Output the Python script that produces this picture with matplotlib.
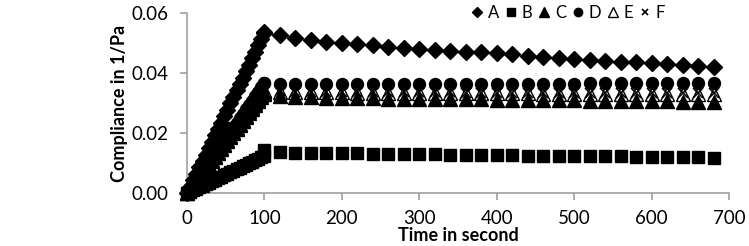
import numpy as np
import matplotlib.pyplot as plt

plt.rcParams['font.family'] = ['Lato', 'DejaVu Sans']

# loading phase, 0-100 s
t_load = [0, 4, 8, 12, 16, 20, 24, 28, 32, 36, 40, 44, 48, 52, 56, 60, 64, 68, 72, 76, 80, 84, 88, 92, 96, 100]
A_load = [0.0000, 0.0021, 0.0043, 0.0064, 0.0086, 0.0107, 0.0128, 0.0150, 0.0171, 0.0193, 0.0214, 0.0235, 0.0257,
          0.0278, 0.0300, 0.0321, 0.0342, 0.0364, 0.0385, 0.0407, 0.0428, 0.0449, 0.0471, 0.0492, 0.0514, 0.0535]
B_load = [0.0000, 0.0005, 0.0010, 0.0015, 0.0020, 0.0025, 0.0030, 0.0035, 0.0040, 0.0045, 0.0050, 0.0055, 0.0060,
          0.0065, 0.0070, 0.0075, 0.0080, 0.0085, 0.0090, 0.0095, 0.0100, 0.0105, 0.0110, 0.0115, 0.0120, 0.0125]
C_load = [0.0000, 0.0013, 0.0027, 0.0040, 0.0053, 0.0067, 0.0080, 0.0093, 0.0107, 0.0120, 0.0133, 0.0147, 0.0160,
          0.0173, 0.0186, 0.0200, 0.0213, 0.0226, 0.0240, 0.0253, 0.0266, 0.0280, 0.0293, 0.0306, 0.0320, 0.0333]
D_load = [0.0000, 0.0015, 0.0029, 0.0044, 0.0059, 0.0073, 0.0088, 0.0103, 0.0117, 0.0132, 0.0147, 0.0161, 0.0176,
          0.0191, 0.0206, 0.0220, 0.0235, 0.0250, 0.0264, 0.0279, 0.0294, 0.0308, 0.0323, 0.0338, 0.0352, 0.0367]
E_load = [0.0000, 0.0014, 0.0027, 0.0041, 0.0054, 0.0068, 0.0082, 0.0095, 0.0109, 0.0122, 0.0136, 0.0150, 0.0163,
          0.0177, 0.0190, 0.0204, 0.0218, 0.0231, 0.0245, 0.0258, 0.0272, 0.0286, 0.0299, 0.0313, 0.0326, 0.0340]
F_load = [0.0000, 0.0014, 0.0028, 0.0042, 0.0056, 0.0070, 0.0084, 0.0098, 0.0112, 0.0126, 0.0140, 0.0154, 0.0168,
          0.0182, 0.0196, 0.0210, 0.0224, 0.0238, 0.0252, 0.0266, 0.0280, 0.0294, 0.0308, 0.0322, 0.0336, 0.0350]

# hold phase, 100-680 s
t_hold = [100, 120, 140, 160, 180, 200, 220, 240, 260, 280, 300, 320, 340, 360, 380,
          400, 420, 440, 460, 480, 500, 520, 540, 560, 580, 600, 620, 640, 660, 680]
A_hold = [0.0537, 0.0527, 0.0516, 0.0510, 0.0504, 0.0501, 0.0498, 0.0492, 0.0488, 0.0482,
          0.0479, 0.0477, 0.0473, 0.0470, 0.0469, 0.0466, 0.0462, 0.0458, 0.0454, 0.0451,
          0.0447, 0.0443, 0.0441, 0.0438, 0.0436, 0.0434, 0.0431, 0.0427, 0.0422, 0.0421]
B_hold = [0.0142, 0.0136, 0.0135, 0.0134, 0.0133, 0.0133, 0.0132, 0.0131, 0.0131, 0.0130,
          0.0129, 0.0129, 0.0128, 0.0128, 0.0127, 0.0126, 0.0126, 0.0125, 0.0125, 0.0124,
          0.0123, 0.0123, 0.0122, 0.0122, 0.0121, 0.0121, 0.0120, 0.0120, 0.0119, 0.0118]
C_hold = [0.0330, 0.0322, 0.0320, 0.0319, 0.0318, 0.0317, 0.0316, 0.0316, 0.0315, 0.0314,
          0.0314, 0.0313, 0.0313, 0.0312, 0.0312, 0.0311, 0.0311, 0.0310, 0.0310, 0.0309,
          0.0309, 0.0308, 0.0308, 0.0307, 0.0307, 0.0306, 0.0306, 0.0305, 0.0305, 0.0305]
D_hold = [0.0368, 0.0362, 0.0362, 0.0362, 0.0362, 0.0363, 0.0363, 0.0363, 0.0363, 0.0363,
          0.0364, 0.0364, 0.0364, 0.0364, 0.0364, 0.0365, 0.0365, 0.0365, 0.0365, 0.0365,
          0.0365, 0.0366, 0.0366, 0.0366, 0.0366, 0.0366, 0.0366, 0.0366, 0.0367, 0.0367]
E_hold = [0.0342, 0.0338, 0.0337, 0.0337, 0.0336, 0.0336, 0.0335, 0.0335, 0.0335, 0.0334,
          0.0334, 0.0334, 0.0333, 0.0333, 0.0333, 0.0332, 0.0332, 0.0332, 0.0331, 0.0331,
          0.0331, 0.0331, 0.0330, 0.0330, 0.0330, 0.0330, 0.0330, 0.0330, 0.0330, 0.0330]
F_hold = [0.0348, 0.0339, 0.0338, 0.0338, 0.0338, 0.0337, 0.0337, 0.0337, 0.0337, 0.0336,
          0.0336, 0.0336, 0.0336, 0.0335, 0.0335, 0.0335, 0.0335, 0.0335, 0.0334, 0.0334,
          0.0334, 0.0334, 0.0334, 0.0333, 0.0333, 0.0333, 0.0333, 0.0333, 0.0333, 0.0333]

names = ["A", "B", "C", "D", "E", "F"]
loads = [A_load, B_load, C_load, D_load, E_load, F_load]
holds = [A_hold, B_hold, C_hold, D_hold, E_hold, F_hold]
styles = [
    dict(marker="D", ms=7.8, mfc="black", mec="black", zorder=3),
    dict(marker="s", ms=8.2, mfc="black", mec="black", zorder=3),
    dict(marker="^", ms=9.5, mfc="black", mec="black", zorder=3),
    dict(marker="o", ms=8.6, mfc="black", mec="black", zorder=3),
    dict(marker="^", ms=9.5, mfc="white", mec="black", mew=1, zorder=2),
    dict(marker="x", ms=7, mfc="black", mec="black", mew=1.2, zorder=4),
]

fig = plt.figure(figsize=(7.49, 2.46), dpi=100)
ax = fig.add_axes([0.2497, 0.2154, 0.7236, 0.7317])

handles = []
for name, yl, yh, st in zip(names, loads, holds, styles):
    t = np.concatenate([t_load, t_hold])
    y = np.concatenate([yl, yh])
    h, = ax.plot(t, y, ls="none", label=name, clip_on=False, **st)
    handles.append(h)

ax.set_xlim(0, 700)
ax.set_ylim(0, 0.06)
ax.set_xticks(np.arange(0, 701, 100))
ax.set_yticks([0, 0.02, 0.04, 0.06])
ax.set_yticklabels(["0.00", "0.02", "0.04", "0.06"])
for s in ["top", "right"]:
    ax.spines[s].set_visible(False)
for s in ["left", "bottom"]:
    ax.spines[s].set_color("#a0a0a0")
    ax.spines[s].set_linewidth(1.2)
    ax.spines[s].set_zorder(1)
ax.tick_params(colors="#a0a0a0", labelcolor="black", labelsize=13.5, length=5, width=1.2)
ax.tick_params(axis="y", pad=8)
ax.tick_params(axis="x", pad=7)

ax.set_xlabel("Time in second", fontsize=13, fontweight="bold", labelpad=0.5)
ax.set_ylabel("Compliance in 1/Pa", fontsize=13, fontweight="bold", labelpad=3)

leg = fig.legend(handles=handles, labels=names, loc="center", bbox_to_anchor=(0.76, 0.947),
                 ncol=6, frameon=False, fontsize=12, handlelength=0.5, handletextpad=0.4,
                 columnspacing=0.45, markerscale=0.7)

fig.savefig("out.png", dpi=100)
